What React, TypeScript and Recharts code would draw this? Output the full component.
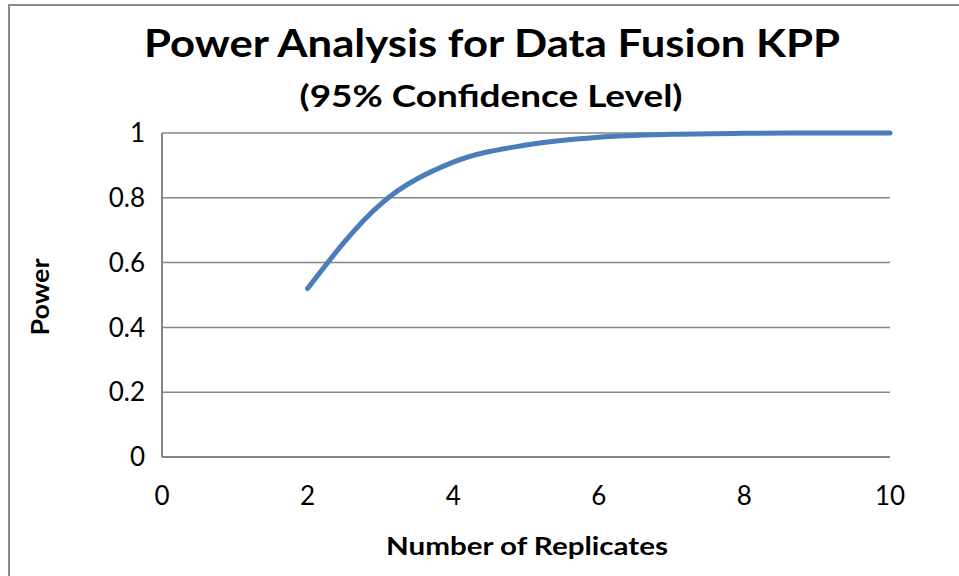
import { LineChart, Line, XAxis, YAxis, CartesianGrid, Label } from 'recharts';

const replicates = [2, 3, 4, 5, 6, 7, 8, 9, 10];
const power = [0.52, 0.78, 0.91, 0.963, 0.987, 0.996, 0.999, 1.0, 1.0];
const xTicks = [0, 2, 4, 6, 8, 10];
const yTicks = [0, 0.2, 0.4, 0.6, 0.8, 1];

const title = 'Power Analysis for Data Fusion KPP';
const subtitle = '(95% Confidence Level)';
const xTitle = 'Number of Replicates';
const yTitle = 'Power';

const FONT = 'Lato, "Open Sans", sans-serif';
const GRID = '#868686';

const data = replicates.map((r, i) => ({ replicates: r, power: power[i] }));

const axisTitleStyle = { fontSize: 25, fontWeight: 700, fill: '#000', fontFamily: FONT };

export default function App() {
  return (
    <div style={{ position: 'absolute', left: 0, top: 0, width: 959, height: 576, background: '#fff' }}>
      {/* chart frame: only top and left edges show */}
      <div
        style={{
          position: 'absolute',
          left: 8,
          top: 4,
          width: 951,
          height: 572,
          borderTop: '2px solid #8a8a8a',
          borderLeft: '2px solid #8a8a8a',
          boxSizing: 'border-box',
        }}
      />
      <LineChart
        width={959}
        height={576}
        data={data}
        margin={{ top: 133, right: 69, left: 102, bottom: 59 }}
        style={{ position: 'absolute', left: 0, top: 0 }}
      >
        <CartesianGrid vertical={false} stroke={GRID} strokeWidth={1.5} />
        <XAxis
          dataKey="replicates"
          type="number"
          domain={[0, 10]}
          ticks={xTicks}
          tickLine={false}
          axisLine={{ stroke: GRID, strokeWidth: 2 }}
          tickMargin={24}
          height={60}
          tick={{ fontSize: 26, fill: '#000', fontFamily: FONT }}
        >
          <Label
            content={({ viewBox }: any) => (
              <text
                x={viewBox.x + viewBox.width / 2 + 1}
                y={viewBox.y + 98}
                textAnchor="middle"
                textLength={282}
                lengthAdjust="spacingAndGlyphs"
                style={axisTitleStyle}
              >
                {xTitle}
              </text>
            )}
          />
        </XAxis>
        <YAxis
          type="number"
          domain={[0, 1]}
          ticks={yTicks}
          tickLine={false}
          axisLine={{ stroke: GRID, strokeWidth: 2 }}
          tickMargin={11}
          width={60}
          tick={{ fontSize: 26, fill: '#000', fontFamily: FONT }}
        >
          <Label
            content={({ viewBox }: any) => {
              const cx = 49;
              const cy = viewBox.y + viewBox.height / 2 + 2;
              return (
                <text
                  x={cx}
                  y={cy}
                  transform={`rotate(-90 ${cx} ${cy})`}
                  textAnchor="middle"
                  textLength={77}
                  lengthAdjust="spacingAndGlyphs"
                  style={axisTitleStyle}
                >
                  {yTitle}
                </text>
              );
            }}
          />
        </YAxis>
        <Line
          type="monotone"
          dataKey="power"
          stroke="#4A7EBB"
          strokeWidth={5}
          strokeLinecap="round"
          dot={false}
          activeDot={false}
          isAnimationActive={false}
        />
      </LineChart>
      <svg width={959} height={130} style={{ position: 'absolute', left: 0, top: 0, pointerEvents: 'none' }}>
        <text
          x={492}
          y={57}
          textAnchor="middle"
          textLength={696}
          lengthAdjust="spacingAndGlyphs"
          style={{ fontSize: 39, fontWeight: 700, fontFamily: FONT }}
        >
          {title}
        </text>
        <text
          x={491}
          y={107}
          textAnchor="middle"
          textLength={383}
          lengthAdjust="spacingAndGlyphs"
          style={{ fontSize: 30, fontWeight: 700, fontFamily: FONT }}
        >
          {subtitle}
        </text>
      </svg>
    </div>
  );
}
